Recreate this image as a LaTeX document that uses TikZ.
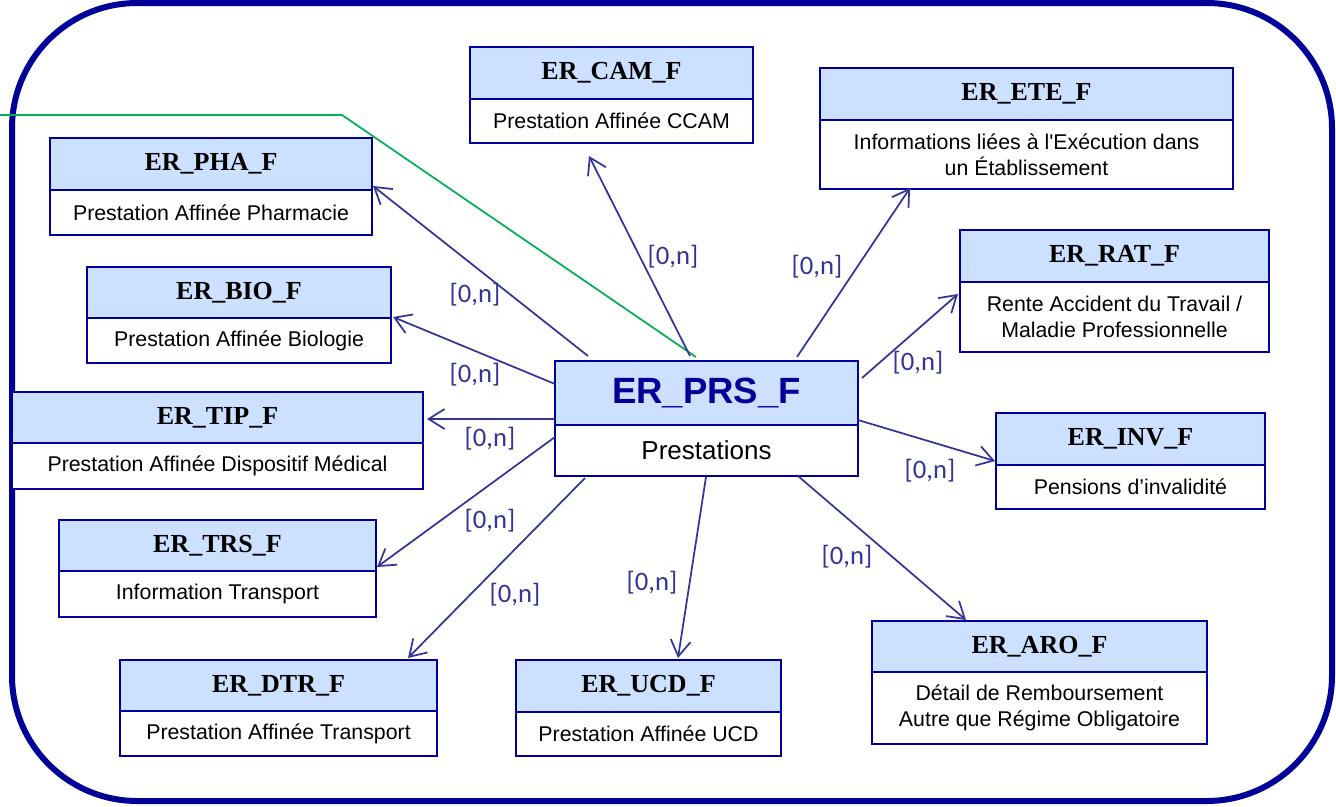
\documentclass[tikz,border=0pt]{standalone}
\usepackage{fontspec}
\setmainfont{Liberation Sans}
\newfontfamily\rawfont{Liberation Sans}[Ligatures=TeXOff]
\newfontfamily\hdrfont{Liberation Serif}
\newfontfamily\lblfont{Carlito}
\usetikzlibrary{arrows.meta,calc}

\definecolor{navy}{HTML}{000099}
\definecolor{lineblue}{HTML}{333399}
\definecolor{hdrfill}{HTML}{CCE0FF}
\definecolor{linkgreen}{HTML}{00B050}

\tikzset{
  hdr/.style={draw=navy, fill=hdrfill, line width=1.5pt, inner sep=0pt, outer sep=0pt,
    font=\hdrfont\bfseries\fontsize{19.5}{23}\selectfont},
  bdy/.style={draw=navy, fill=white, line width=1.5pt, inner sep=0pt, outer sep=0pt,
    align=center, font=\fontsize{16}{19.5}\selectfont},
  conn/.style={draw=lineblue, line width=1.3pt, -{Straight Barb[length=12pt,width=15pt]}},
  card/.style={text=lineblue, font=\lblfont\fontsize{20}{23}\selectfont, inner sep=0pt},
}

% \entity{name}{left}{top}{width}{header height}{body height}{title}{description}
\newcommand\entity[8]{%
  \node[hdr, minimum width={#4*0.75pt}, minimum height={#5*0.75pt}, anchor=north west] (#1) at (#2,#3) {#7};
  \node[bdy, minimum width={#4*0.75pt}, minimum height={#6*0.75pt}, anchor=north] (#1-b) at (#1.south) {#8};
}

\begin{document}
\begin{tikzpicture}[x=0.75pt,y=-0.75pt]
\useasboundingbox (0,0) rectangle (1336,807);

% link line coming from the left
\coordinate (gstart) at (0,115);
\coordinate (gbend) at (342,115);

% frame
\draw[navy, line width=4.5pt, rounded corners=94pt] (12,3) rectangle (1332,801);

% entities
\entity{cam}{470}{47}{283}{52}{44}{ER\_CAM\_F}{Prestation Affinée CCAM}
\entity{ete}{820}{68}{413}{52}{69}{ER\_ETE\_F}{{\rawfont Informations liées à l'Exécution dans}\\un Établissement}
\entity{pha}{50}{138}{322}{52}{45}{ER\_PHA\_F}{Prestation Affinée Pharmacie}
\entity{bio}{87}{267}{304}{51}{45}{ER\_BIO\_F}{Prestation Affinée Biologie}
\entity{rat}{960}{230}{309}{52}{70}{ER\_RAT\_F}{Rente Accident du Travail /\\Maladie Professionnelle}
\entity{tipd}{12}{392}{411}{51}{46}{ER\_TIP\_F}{Prestation Affinée Dispositif Médical}
\entity{inv}{996}{413}{269}{52}{44}{ER\_INV\_F}{Pensions d’invalidité}
\entity{trs}{59}{520}{317}{51}{46}{ER\_TRS\_F}{Information Transport}
\entity{dtr}{120}{660}{317}{51}{45}{ER\_DTR\_F}{Prestation Affinée Transport}
\entity{ucd}{516}{660}{265}{52}{44}{ER\_UCD\_F}{Prestation Affinée UCD}
\entity{aro}{872}{621}{335}{51}{72}{ER\_ARO\_F}{Détail de Remboursement\\Autre que Régime Obligatoire}

% central entity
\node[hdr, minimum width={303*0.75pt}, minimum height={64*0.75pt}, anchor=north west,
      font=\bfseries\fontsize{27.4}{32}\selectfont, text=navy] (prs) at (555,361) {ER\_PRS\_F};
\node[bdy, minimum width={303*0.75pt}, minimum height={51*0.75pt}, anchor=north,
      font=\fontsize{19.5}{23}\selectfont] (prs-b) at (prs.south) {Prestations};

% green link
\draw[linkgreen, line width=1.3pt] (gstart) -- (gbend) -- ($(prs.north west)+(141,-4)$);

% relationships
\draw[conn] ($(prs.north west)+(33,-5)$) -- ($(pha.south east)+(1,-4)$);
\draw[conn] ($(prs.north west)+(0,23)$) -- ($(bio.south east)+(2,-1)$);
\draw[conn] ($(prs.north west)+(0,58)$) -- ($(tipd.south east)+(4,-24)$);
\draw[conn] ($(prs.north west)+(0,76)$) -- ($(trs.south east)+(1,-4)$);
\draw[conn] ($(prs-b.south west)+(30,2)$) -- ($(dtr.north east)+(-29,-2)$);
\draw[conn] ($(prs-b.south west)+(151,1)$) -- ($(ucd.north west)+(162,-2)$);
\draw[conn] ($(prs-b.south west)+(243,0)$) -- ($(aro.north west)+(94,-1)$);
\draw[conn] ($(prs.north east)+(0,59)$) -- ($(inv.south west)+(-1,-4)$);
\draw[conn] ($(prs.north east)+(4,17)$) -- ($(rat-b.north west)+(-2,12)$);
\draw[conn] ($(prs.north west)+(242,-4)$) -- ($(ete-b.south west)+(90,-1)$);
\draw[conn] ($(prs.north west)+(135,-5)$) -- ($(cam-b.south west)+(119,13)$);

% cardinalities
\node[card] (c-pha) at (475,295) {[0,n]};
\node[card] (c-bio) at (475,375) {[0,n]};
\node[card] (c-tip) at (490,439) {[0,n]};
\node[card] (c-trs) at (490,521) {[0,n]};
\node[card] (c-dtr) at (515,595) {[0,n]};
\node[card] (c-ucd) at (652,583) {[0,n]};
\node[card] (c-aro) at (847,557) {[0,n]};
\node[card] (c-inv) at (930,471) {[0,n]};
\node[card] (c-rat) at (918,363) {[0,n]};
\node[card] (c-ete) at (817,267) {[0,n]};
\node[card] (c-cam) at (673,257) {[0,n]};
\end{tikzpicture}
\end{document}
